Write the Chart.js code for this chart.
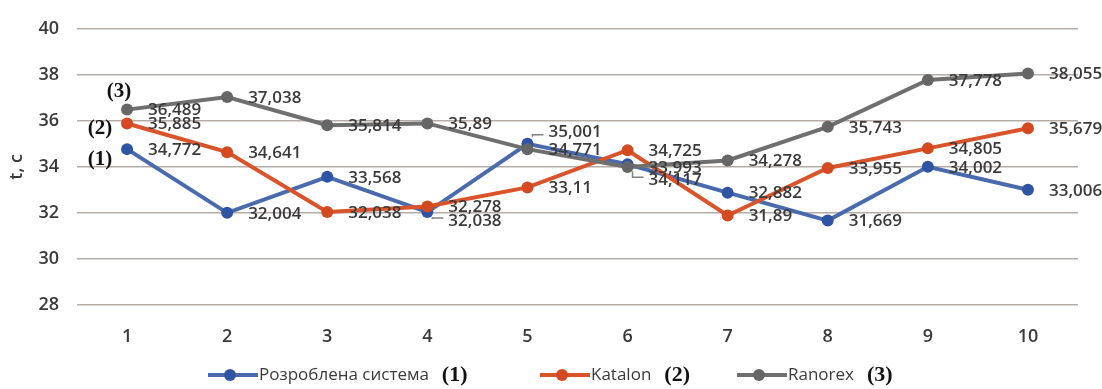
<!DOCTYPE html>
<html>
<head>
<meta charset="utf-8">
<script src="https://cdn.jsdelivr.net/npm/chart.js@4"></script>
<style>
  html, body { margin: 0; padding: 0; background: #fff; }
  #wrap { width: 1102px; height: 389px; }
</style>
</head>
<body>
<div id="wrap"><canvas id="timeChart" width="1102" height="389"></canvas></div>
<script>
"use strict";

// Data
var runs = ["1", "2", "3", "4", "5", "6", "7", "8", "9", "10"];
var ownSystem = [34.772, 32.004, 33.568, 32.038, 35.001, 34.117, 32.882, 31.669, 34.002, 33.006];
var katalon = [35.885, 34.641, 32.038, 32.278, 33.11, 34.725, 31.89, 33.955, 34.805, 35.679];
var ranorex = [36.489, 37.038, 35.814, 35.89, 34.771, 33.993, 34.278, 35.743, 37.778, 38.055];
var seriesNames = ["Розроблена система", "Katalon", "Ranorex"];
var seriesTags = ["(1)", "(2)", "(3)"];

var blue = "#4a6aae", blueDot = "#2f54a3";
var orange = "#d9542b", orangeDot = "#d4491f";
var grey = "#6f6f6f", greyDot = "#666666";
var textColor = "#3a3a3a";
var sans = "'Open Sans', 'Liberation Sans', sans-serif";
var serif = "'Liberation Serif', 'DejaVu Serif', serif";

// ------------------------------------------------------- //
// Value labels, "(n)" tags and legend
// ------------------------------------------------------ //
var labelPlugin = {
    id: "valueLabels",
    afterDatasetsDraw: function (chart) {
        var ctx = chart.ctx;
        // vertical shift of a few crowded labels (dataset-index), drawn with a leader line
        var shifted = { "0-3": 9, "0-4": -12, "0-5": 16 };
        ctx.save();
        ctx.font = "600 17px " + sans;
        ctx.fillStyle = textColor;
        ctx.textBaseline = "middle";
        ctx.textAlign = "left";
        chart.data.datasets.forEach(function (ds, di) {
            var meta = chart.getDatasetMeta(di);
            meta.data.forEach(function (pt, i) {
                var txt = String(ds.data[i]).replace(".", ",");
                var shift = shifted[di + "-" + i];
                var ly = pt.y + 1;
                if (shift) {
                    ly = pt.y + shift;
                    var dir = shift > 0 ? 1 : -1;
                    ctx.save();
                    ctx.strokeStyle = "#808080";
                    ctx.lineWidth = 1.5;
                    ctx.beginPath();
                    ctx.moveTo(pt.x + 5, pt.y + dir * 7);
                    ctx.lineTo(pt.x + 5, ly - dir * 3);
                    ctx.lineTo(pt.x + 16, ly - dir * 3);
                    ctx.stroke();
                    ctx.restore();
                }
                ctx.fillText(txt, pt.x + 21, ly);
            });
        });

        // series tags next to the first points
        var tagOffsets = [[-27, 10], [-27, 5], [-8, -18]];
        ctx.font = "bold 21px " + serif;
        ctx.textAlign = "center";
        ctx.fillStyle = "#111";
        tagOffsets.forEach(function (off, di) {
            var p = chart.getDatasetMeta(di).data[0];
            ctx.fillText(seriesTags[di], p.x + off[0], p.y + off[1]);
        });
        ctx.restore();
    },
    afterDraw: function (chart) {
        var ctx = chart.ctx;
        var starts = [208, 540, 737];
        var lineCols = [blue, orange, grey];
        var dotCols = [blueDot, orangeDot, greyDot];
        var y = 375;
        ctx.save();
        ctx.textBaseline = "middle";
        ctx.textAlign = "left";
        starts.forEach(function (x, i) {
            ctx.strokeStyle = lineCols[i];
            ctx.lineWidth = 4;
            ctx.beginPath();
            ctx.moveTo(x, y);
            ctx.lineTo(x + 50, y);
            ctx.stroke();
            ctx.fillStyle = dotCols[i];
            ctx.beginPath();
            ctx.arc(x + 22, y, 6, 0, Math.PI * 2);
            ctx.fill();
            ctx.font = "500 17px " + sans;
            ctx.fillStyle = textColor;
            ctx.fillText(seriesNames[i], x + 51, y);
            var w = ctx.measureText(seriesNames[i]).width;
            ctx.font = "bold 22px " + serif;
            ctx.fillStyle = "#111";
            ctx.fillText(seriesTags[i], x + 51 + w + 13, y);
        });
        ctx.restore();
    }
};

var TIMECHART = document.getElementById("timeChart");
var timeChart = new Chart(TIMECHART, {
    type: "line",
    plugins: [labelPlugin],
    data: {
        labels: runs,
        datasets: [
            {
                label: seriesNames[0],
                data: ownSystem,
                borderColor: blue,
                backgroundColor: blueDot,
                pointBackgroundColor: blueDot,
                borderWidth: 4,
                pointRadius: 6,
                pointBorderWidth: 0,
                order: 2,
            },
            {
                label: seriesNames[1],
                data: katalon,
                borderColor: orange,
                backgroundColor: orangeDot,
                pointBackgroundColor: orangeDot,
                borderWidth: 4,
                pointRadius: 6,
                pointBorderWidth: 0,
                order: 1,
            },
            {
                label: seriesNames[2],
                data: ranorex,
                borderColor: grey,
                backgroundColor: greyDot,
                pointBackgroundColor: greyDot,
                borderWidth: 4,
                pointRadius: 6,
                pointBorderWidth: 0,
                order: 0,
            },
        ],
    },
    options: {
        responsive: false,
        animation: false,
        events: [],
        layout: {
            padding: { top: 24, right: 24, bottom: 45, left: 0 },
        },
        plugins: {
            legend: { display: false },
            tooltip: { enabled: false },
        },
        scales: {
            x: {
                offset: true,
                grid: { display: false, drawTicks: false },
                border: { display: false },
                ticks: {
                    color: textColor,
                    font: { family: sans, size: 18, weight: "600" },
                    padding: 21,
                },
                afterFit: function (scale) { scale.height = 39; },
            },
            y: {
                min: 28,
                max: 40,
                ticks: {
                    stepSize: 2,
                    color: textColor,
                    font: { family: sans, size: 18, weight: "600" },
                    padding: 18,
                },
                grid: { color: "#b3aca8", lineWidth: 1.6, drawTicks: false },
                border: { display: false },
                title: {
                    display: true,
                    text: "t, c",
                    color: textColor,
                    font: { family: sans, size: 18, weight: "600" },
                    padding: { top: 6, bottom: 0 },
                },
                afterFit: function (scale) { scale.width = 77; },
            },
        },
    },
});
</script>
</body>
</html>
